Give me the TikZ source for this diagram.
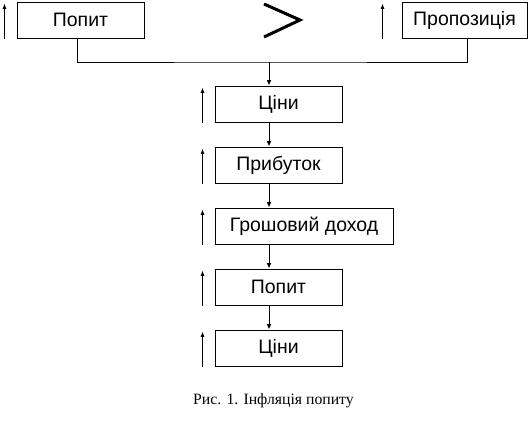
\documentclass[tikz,border=0pt]{standalone}
\usepackage{fontspec}
\setmainfont{Liberation Serif}
\setsansfont{Liberation Sans}
\usetikzlibrary{arrows.meta, positioning}
\tikzset{
	blk/.style  ={rectangle, draw=black, line width=0.75pt, minimum width=95.25pt, minimum height=27pt, text centered, inner sep=2pt, font=\sffamily\fontsize{14.6}{16}\selectfont},
	sig/.style  ={-{Latex[length=4pt,width=3.5pt]}, line width=0.75pt},
	rise/.style ={-{Latex[length=4pt,width=3pt]}, line width=0.75pt},
	wire/.style ={line width=0.75pt},
}
\begin{document}
\begin{tikzpicture}[x=0.75pt, y=-0.75pt, node distance=18pt]
\useasboundingbox (0,0) rectangle (531,425);
% top row
\node[blk] (p1) at (80.5,20) {Попит};
\node[blk, minimum width=93.75pt] (p2) at (464.5,20) {Пропозиція};
\draw[line width=2.25pt] (264,4) -- (300,20) -- (264,37);
% column
\node[blk] (c1) at (278.5,104) {Ціни};
\node[blk, below right=18pt and 0pt of c1.south west] (c2) {Прибуток};
\node[blk, below right=18pt and 0pt of c2.south west, minimum width=133.5pt] (c3) {Грошовий доход};
\node[blk, below right=18pt and 0pt of c3.south west] (c4) {Попит};
\node[blk, below right=18pt and 0pt of c4.south west] (c5) {Ціни};
\node[font=\fontsize{11.8}{13}\selectfont] (cap) at (273.5,401) {Рис. 1. Інфляція попиту};
% connectors
\coordinate (join) at (269,62);
\draw[wire] ([xshift=-2.4pt]p1.south) |- (join) -| ([xshift=2.4pt]p2.south);
\draw[sig] (join) -- (join |- c1.north);
\foreach \a/\b in {c1/c2,c2/c3,c3/c4,c4/c5}
	\draw[sig] (\a.south -| join) -- (\b.north -| join);
% rising arrows
\foreach \n in {p1,c1,c2,c3,c4,c5}
	\draw[rise] ([xshift=-9pt]\n.south west) -- ([xshift=-9pt,yshift=-1.5pt]\n.north west);
\draw[rise] ([xshift=-14.25pt]p2.south west) -- ([xshift=-14.25pt,yshift=-1.5pt]p2.north west);
\end{tikzpicture}
\end{document}
